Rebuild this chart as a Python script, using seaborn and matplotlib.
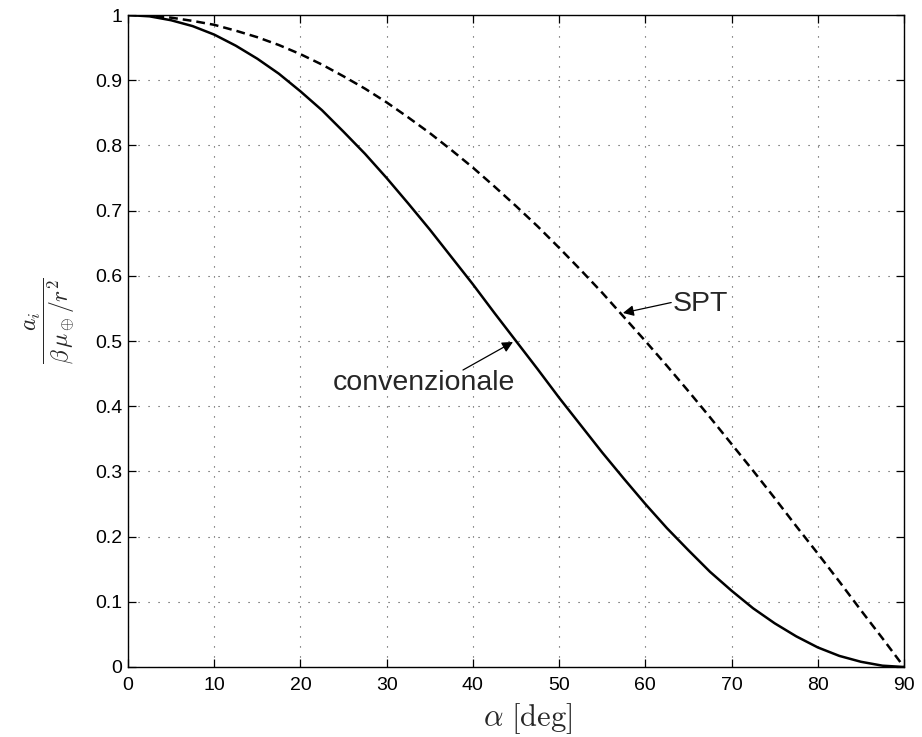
import matplotlib
matplotlib.use("Agg")
import matplotlib.pyplot as plt
import seaborn as sns
import pandas as pd

# angle of the thrust direction [deg]
alpha_deg = [0, 2.5, 5, 7.5, 10, 12.5, 15, 17.5, 20, 22.5, 25, 27.5, 30, 32.5,
             35, 37.5, 40, 42.5, 45, 47.5, 50, 52.5, 55, 57.5, 60, 62.5, 65,
             67.5, 70, 72.5, 75, 77.5, 80, 82.5, 85, 87.5, 90]

# normalised acceleration, conventional tether
acc_conv = [1.000, 0.998, 0.992, 0.983, 0.970, 0.953, 0.933, 0.910, 0.883, 0.854,
            0.821, 0.787, 0.750, 0.711, 0.671, 0.629, 0.587, 0.543, 0.500, 0.457,
            0.413, 0.371, 0.329, 0.289, 0.250, 0.213, 0.179, 0.146, 0.117, 0.090,
            0.067, 0.047, 0.030, 0.017, 0.008, 0.002, 0.000]

# normalised acceleration, SPT
acc_spt = [1.000, 0.999, 0.996, 0.991, 0.985, 0.976, 0.966, 0.954, 0.940, 0.924,
           0.906, 0.887, 0.866, 0.843, 0.819, 0.793, 0.766, 0.737, 0.707, 0.676,
           0.643, 0.609, 0.574, 0.537, 0.500, 0.462, 0.423, 0.383, 0.342, 0.301,
           0.259, 0.216, 0.174, 0.131, 0.087, 0.044, 0.000]

x_ticks = [0, 10, 20, 30, 40, 50, 60, 70, 80, 90]
y_ticks = [0, 0.1, 0.2, 0.3, 0.4, 0.5, 0.6, 0.7, 0.8, 0.9, 1]
y_tick_labels = ["0", "0.1", "0.2", "0.3", "0.4", "0.5", "0.6", "0.7", "0.8", "0.9", "1"]

df = pd.DataFrame({"alpha": alpha_deg, "conv": acc_conv, "spt": acc_spt})

sns.set_style("ticks")
plt.rcParams["font.family"] = ["Liberation Sans", "DejaVu Sans"]
plt.rcParams["mathtext.fontset"] = "cm"

fig = plt.figure(figsize=(9.22, 7.37), dpi=100)
ax = fig.add_axes([0.1388, 0.095, 0.9805 - 0.1388, 0.9796 - 0.095])

sns.lineplot(data=df, x="alpha", y="conv", ax=ax, color="black", lw=1.8)
sns.lineplot(data=df, x="alpha", y="spt", ax=ax, color="black", lw=1.8,
             linestyle=(0, (3.5, 2.0)))

ax.set_xlim(0, 90)
ax.set_ylim(0, 1)
ax.set_xticks(x_ticks)
ax.set_xticklabels([str(t) for t in x_ticks])
ax.set_yticks(y_ticks)
ax.set_yticklabels(y_tick_labels)

ax.grid(True, color="#444444", linestyle=(0, (1, 8)), lw=0.8)
for s in ax.spines.values():
    s.set_visible(True)
    s.set_color("black")
    s.set_linewidth(1.0)

ax.tick_params(axis="both", which="both", direction="in", length=6, width=0.9,
               top=True, right=True, labelsize=14, colors="black")
ax.tick_params(axis="x", pad=7)
ax.tick_params(axis="y", pad=4)

ax.set_xlabel(r"$\alpha\ [\mathrm{deg}]$", fontsize=22)
ax.xaxis.set_label_coords(0.515, -0.053)
ax.set_ylabel(r"$\dfrac{a_i}{\beta\,\mu_\oplus/r^2}$", fontsize=17)
ax.yaxis.set_label_coords(-0.066, 0.532)

arrow_kw = dict(arrowstyle="-|>", color="black", lw=0.9, mutation_scale=16,
                shrinkA=0, shrinkB=0)

ax.text(63.2, 0.546, "SPT", fontsize=20.5, ha="left", va="baseline")
ax.annotate("", xy=(57.4, 0.543), xytext=(63.0, 0.559), arrowprops=arrow_kw)

ax.text(23.8, 0.425, "convenzionale", fontsize=20.5, ha="left", va="baseline")
ax.annotate("", xy=(44.65, 0.4985), xytext=(38.85, 0.4555), arrowprops=arrow_kw)

fig.savefig("out.png", dpi=100)
